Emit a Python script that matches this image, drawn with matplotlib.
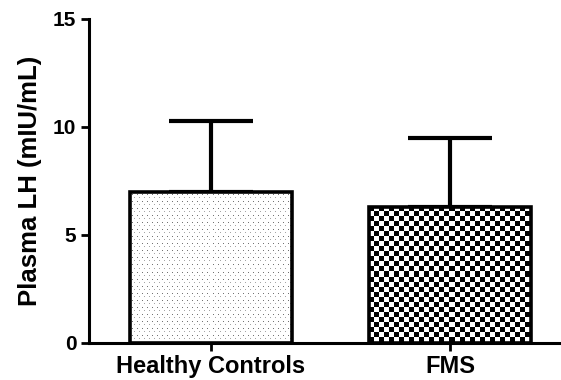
import matplotlib.pyplot as plt
import numpy as np

# Data ***************************************************************
groups = ['Healthy Controls', 'FMS']
means = [7.0, 6.3]        # mIU/mL
sd_upper = [3.3, 3.2]     # upper error (SD)
y_ticks = [0, 5, 10, 15]

plt.rcParams['font.family'] = ['Liberation Sans', 'DejaVu Sans']
plt.rcParams['font.weight'] = 'bold'


def dot_texture(h, w):
    '''Grey stipple used in the first bar.'''
    img = np.ones((h, w))
    img[3::7, 2::5] = 0.45
    img[6::7, 4::5] = 0.65
    return img


def checker_texture(h, w, cell=5):
    '''Black/white checkerboard used in the second bar.'''
    yy, xx = np.mgrid[0:h, 0:w]
    return (((yy // cell) + (xx // cell)) % 2).astype(float)


fig = plt.figure(figsize=(5.61, 3.8), dpi=100)
ax = fig.add_axes([0.1586, 0.0974, 0.8414, 0.8526])

x = np.arange(len(groups))
width = 0.678
bars = ax.bar(x, means, width=width, facecolor='none', edgecolor='black',
              linewidth=2.6, zorder=3)

ax.set_xlim(-0.51, 1.464)
ax.set_ylim(0, 15)

# fill textures, clipped to the bars
textures = [dot_texture, checker_texture]
for bar, tex in zip(bars, textures):
    x0, y0 = bar.get_x(), bar.get_y()
    w, h = bar.get_width(), bar.get_height()
    p0 = ax.transData.transform((x0, y0))
    p1 = ax.transData.transform((x0 + w, y0 + h))
    npx_w = int(abs(p1[0] - p0[0]))
    npx_h = int(abs(p1[1] - p0[1]))
    im = ax.imshow(tex(npx_h, npx_w), cmap='gray', vmin=0, vmax=1,
                   extent=(x0, x0 + w, y0, y0 + h), aspect='auto',
                   interpolation='nearest', zorder=2.8)
    im.set_clip_path(bar)

ax.set_xlim(-0.51, 1.464)
ax.set_ylim(0, 15)

# upper error bars only
ax.errorbar(x, means, yerr=[np.zeros(len(means)), sd_upper], fmt='none',
            ecolor='black', elinewidth=3.0, capsize=30, capthick=3.0, zorder=2.5)

ax.spines['top'].set_visible(False)
ax.spines['right'].set_visible(False)
ax.spines['left'].set_linewidth(2.2)
ax.spines['bottom'].set_linewidth(2.2)

ax.set_yticks(y_ticks)
ax.set_xticks(x)
ax.set_xticklabels(groups)
ax.tick_params(axis='both', width=2.0, length=6)
ax.tick_params(axis='y', pad=3, labelsize=15)
ax.tick_params(axis='x', pad=3, labelsize=17)

ax.set_ylabel('Plasma LH (mIU/mL)', fontsize=18.5, fontweight='bold', labelpad=8)

fig.savefig('out.png', dpi=100)
